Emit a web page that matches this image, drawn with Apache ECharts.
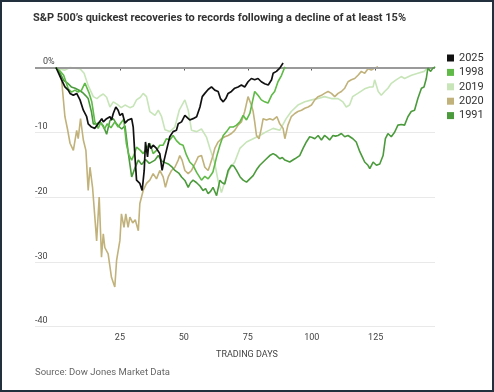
<!DOCTYPE html>
<html>
<head>
<meta charset="utf-8">
<script src="https://cdn.jsdelivr.net/npm/echarts@6/dist/echarts.min.js"></script>
<style>
html,body{margin:0;padding:0;background:#fff;}
#wrap{position:relative;width:494px;height:392px;}
#chart{position:absolute;left:0;top:0;width:494px;height:392px;}
#frame{position:absolute;left:0;top:0;width:494px;height:392px;box-sizing:border-box;border:2px solid #22303d;pointer-events:none;}
</style>
</head>
<body>
<div id="wrap"><div id="chart"></div><div id="frame"></div></div>
<script>
const titleText = 'S&P 500\u2019s quickest recoveries to records following a decline of at least 15%';
const sourceText = 'Source: Dow Jones Market Data';
const xAxisName = 'TRADING DAYS';
const xTicks = [25, 50, 75, 100, 125];
const legendNames = ['2025', '1998', '2019', '2020', '1991'];

const s2025 = [[0,0],[2.2,-1.9],[3.5,-3],[4.8,-3.5],[5.5,-4],[6.8,-4.3],[8.1,-4],[9.4,-5],[10.7,-6.6],[12,-7.6],[12.6,-8.7],[13.3,-8.9],[13.9,-9.2],[15.2,-9.4],[15.9,-9.7],[16.5,-8.7],[17.2,-8.4],[17.9,-7.9],[18.5,-8.4],[19.8,-7.9],[21.1,-7.6],[21.7,-8.1],[22.4,-7.1],[23.4,-6.1],[24.3,-6.6],[25,-7.4],[26,-7.1],[27,-8.6],[28.2,-8.1],[29.6,-7.9],[30.2,-9.2],[30.9,-13.8],[31.5,-17.4],[32.8,-17.9],[33.7,-19],[34.5,-15.9],[35,-11.5],[35.8,-13.8],[36.3,-11.7],[37.1,-12.5],[38,-12],[39.3,-12.5],[40.6,-13.3],[41.5,-15.9],[42.3,-14.3],[43.2,-12.8],[44.5,-10.7],[45.8,-9.9],[47.1,-9.7],[47.8,-8.7],[49.1,-8.4],[50.4,-7.4],[51,-7.6],[52.3,-8.1],[53.6,-7.9],[55,-7.6],[56.3,-6.1],[57.2,-4.5],[58.2,-4],[59.5,-3.4],[60.8,-3],[62.1,-3.5],[63.4,-3.7],[64.3,-4.8],[65.4,-5.3],[66.4,-4.8],[67.3,-4],[68.6,-3.7],[69.9,-3.2],[71.2,-3],[72.5,-2.7],[73.8,-3],[75.1,-2.2],[76.4,-1.7],[77.7,-1.9],[79,-1.7],[80.3,-2.2],[81.6,-2.5],[83,-2.7],[84.3,-1.9],[84.9,-0.9],[86.2,-0.6],[87.5,-0.1],[88.8,0.7]];

const s1998 = [[0,0],[1.5,-0.5],[3,-1.2],[4.8,-3.3],[6.1,-3.8],[7.4,-3.5],[8.7,-3.8],[10,-3.5],[11.3,-2.4],[12,-2.2],[13,-4],[14,-5.3],[15.2,-8.4],[16.5,-9.4],[17.5,-8.5],[19,-9.5],[20,-8.7],[21.5,-9.3],[23,-8.4],[24.3,-9.2],[25.5,-8.5],[26.5,-8],[27.5,-11.7],[28.5,-13.5],[29.6,-14.3],[30.5,-13.5],[31.5,-12.3],[33,-12.8],[34.1,-13.3],[35.4,-12.5],[36.7,-11.7],[38,-13.3],[39.3,-12.8],[40.6,-12],[41.9,-12],[43.2,-11],[44.5,-11.2],[45.8,-10.5],[47.1,-11.3],[48.4,-11.8],[49.7,-12],[51,-13.5],[52.3,-14.6],[53.6,-15.1],[55,-16.2],[56.9,-17.4],[58.2,-16.8],[59.5,-17.2],[60.8,-16.5],[61.4,-16.1],[62.8,-13.8],[64.1,-12],[65.4,-10.5],[66.7,-9.9],[68,-9.2],[69.3,-9.2],[70.6,-8.9],[71.9,-8.4],[73.2,-7.4],[74.5,-8.1],[75.8,-7.1],[76.8,-5.3],[77.7,-3.7],[79,-4.3],[80.3,-5],[81.6,-5.3],[82.9,-5.5],[84.3,-4.3],[85.5,-3.7],[86.8,-2.2],[88.2,-1.2],[89.5,0.1]];

const s2019 = [[0,0],[2,-0.3],[3.5,-0.4],[5.5,0],[7.4,-0.1],[9.4,-0.2],[11,-0.9],[12.6,-2.8],[14.6,-4.5],[16,-4.8],[17.2,-4.4],[18.5,-4.1],[19.8,-4.6],[21.1,-6.1],[22.4,-5.3],[24,-5.7],[25.5,-6.2],[27,-5.8],[28.9,-6.2],[30.2,-6],[31.5,-5],[33,-4.6],[34.1,-4],[35.4,-4.5],[36.7,-6.8],[38.7,-7.4],[40,-6.6],[41.3,-7.6],[42.6,-9.6],[44.5,-9.9],[46.5,-9.2],[48.2,-6.6],[50.4,-5],[51.7,-6.6],[53,-9.7],[55,-9.9],[56.9,-9.5],[58.9,-10.8],[60.2,-12.5],[62,-14.6],[63.4,-17.5],[64.7,-19.3],[66,-17.7],[68,-15.6],[69.9,-14.6],[71.9,-12.5],[74.5,-11.5],[77.1,-11],[79.7,-10.5],[82.3,-9.9],[84.9,-9.4],[87.5,-9.7],[90,-7.9],[92,-6.8],[94.6,-5.8],[97.3,-5.3],[100,-5],[102.5,-4.8],[105,-4.5],[107.7,-4.8],[110.3,-4.8],[112.2,-5.3],[113.5,-6.1],[114.8,-5.8],[116,-4.5],[118,-4],[120.7,-3.3],[122.7,-3],[124,-3],[124.6,-1.9],[126,-3.7],[127.2,-4.3],[128.5,-3.7],[129.8,-3.2],[131,-2.5],[133,-1.9],[135,-1.4],[136.3,-1.7],[139,-1.2],[141.5,-0.9],[144,-0.6],[145.4,0]];

const s2020 = [[0,0],[1,-0.5],[2.2,-1.9],[3.5,-7.6],[4.5,-9.5],[5.5,-11.7],[6.8,-12.8],[8.1,-9.7],[8.7,-11],[9.6,-7.9],[10.7,-11.2],[11.7,-12.8],[12.6,-19],[13.3,-15.4],[14.3,-18.5],[15.2,-23.1],[15.9,-26.8],[16.9,-20],[17.8,-29.3],[18.5,-25.7],[19.1,-27.8],[20.4,-28.8],[21.7,-32.4],[23,-33.9],[23.7,-29.8],[25,-26.7],[25.6,-22.6],[26.6,-24.7],[27.3,-22.6],[28.2,-24.7],[28.9,-23.1],[30,-24],[31,-23.5],[32.2,-25.2],[32.8,-21],[34.1,-19],[35.4,-17.9],[36.7,-17.4],[38,-16.4],[39.3,-17.2],[40.6,-15.9],[41.9,-16.9],[42.8,-18.5],[43.9,-16.9],[45.2,-15.9],[46.5,-15.4],[47.8,-14.3],[48.4,-13.6],[49.3,-14.3],[50.4,-15.9],[51.7,-16.4],[53,-15.9],[54.3,-14.9],[55.6,-13.8],[56.9,-13.6],[58.2,-15.4],[59.5,-15.9],[60.2,-15.1],[61.4,-13.6],[62.1,-12.5],[63.4,-11.5],[64.7,-11],[66,-10.7],[67.3,-10.5],[68.6,-10.2],[69.9,-9.7],[71.2,-8.9],[72.5,-8.4],[73.8,-6.8],[75.1,-4.5],[75.8,-4.3],[76.4,-5.8],[77.1,-6.8],[77.7,-8.4],[78.4,-10.5],[79.4,-11],[80.3,-9.4],[81,-7.9],[82.3,-8.1],[83.6,-7.9],[84.9,-8.1],[86.4,-7.6],[87.5,-8.7],[88.8,-9.4],[89.5,-11],[90.7,-8.9],[92,-7.6],[93.4,-7.1],[94.6,-6.8],[96,-6.6],[97.3,-6.3],[98.6,-6.1],[99.9,-5.8],[101.2,-5],[102.5,-4.5],[103.8,-4.3],[105,-4],[106.4,-3.7],[107.7,-4],[109,-4.5],[110.3,-4],[111.6,-3.7],[112.9,-3.2],[114.2,-2.2],[115.5,-1.9],[116.8,-1.7],[118.1,-1.2],[119.4,-0.6],[120.7,-0.9],[122,-0.2],[123.3,-0.4],[124.6,-0.1],[125.9,0.1]];

const s1991 = [[0,0],[1.5,-0.8],[3,-2],[4.5,-2.4],[6,-3],[7.5,-3.2],[9,-3.5],[10.5,-3.9],[11.5,-4.3],[12.6,-4.8],[13.9,-6.9],[14.6,-8.7],[15.9,-8.7],[17.2,-8.4],[18.5,-9],[19.8,-10.3],[21.1,-8.2],[22.4,-7.9],[23.5,-8.6],[24.3,-9],[25.7,-9.5],[27,-9],[28.2,-13],[29.6,-16.9],[30.9,-15.5],[32.2,-14.3],[33.5,-15],[35,-14.2],[36.5,-14.8],[38.7,-14.3],[40,-13.6],[41.5,-14.5],[43.9,-14.9],[45.2,-15.3],[46.5,-15.9],[48,-16.3],[49.1,-16.9],[50.5,-17.5],[51.7,-18.5],[52.6,-17.8],[53.6,-17.4],[55,-17.8],[56.3,-18.3],[57.5,-19],[58.5,-18.7],[59.5,-19.5],[60.5,-19.1],[61.4,-18.5],[62.8,-19.8],[64.1,-17.4],[65,-17.8],[66,-18],[67.3,-15.9],[68.6,-15.1],[69.5,-15.2],[70.6,-15.9],[72,-16.9],[73.2,-17.4],[74.5,-17.7],[75.8,-17.2],[77.1,-16.7],[78.4,-15.8],[79.7,-15.1],[81,-14.6],[82.3,-14.1],[83.6,-13.6],[84.9,-13.3],[86.2,-13.6],[87.5,-14.1],[88.5,-13.9],[89.5,-14.3],[91.4,-14.6],[93.4,-14.1],[95.3,-13.6],[96.6,-12.5],[97.9,-11.5],[99.2,-10.7],[100.2,-10.8],[101.2,-11],[102.5,-10.5],[103.8,-11.2],[105,-10.5],[106,-10.8],[107,-11.2],[108.3,-10.5],[109.3,-10.6],[110.3,-10.5],[111.6,-10.2],[112.9,-10.7],[114.2,-10.5],[116.1,-11],[117.4,-11.5],[118.8,-13],[120,-14],[120.7,-14.6],[122,-15.1],[122.7,-15.6],[124,-14.6],[125.3,-15.1],[126.6,-14.9],[127.9,-13.6],[128.8,-11],[129.8,-10.2],[131.1,-10.7],[132.4,-10],[133.7,-8.9],[135,-8.8],[136.3,-8.9],[137.6,-7.6],[138.9,-6.8],[140.2,-6.6],[141.5,-4.8],[142.9,-3.2],[143.9,-3],[144.8,-1.7],[145.4,-0.1],[146.5,-0.6],[147.4,-0.1],[148.3,0.1]];

const seriesData = {'2025': s2025, '1998': s1998, '2019': s2019, '2020': s2020, '1991': s1991};
const colors = {'2025': '#111111', '1998': '#5fba47', '2019': '#c7e5b8', '2020': '#c1b27b', '1991': '#4b9b3d'};
const drawOrder = ['2019', '2020', '1991', '1998', '2025'];

const chart = echarts.init(document.getElementById('chart'), null, {renderer: 'canvas'});
const series = drawOrder.map((name, i) => ({
  name: name,
  type: 'line',
  data: seriesData[name],
  showSymbol: false,
  symbol: 'none',
  clip: false,
  z: 3 + i,
  lineStyle: {color: colors[name], width: name === '2025' ? 1.7 : 1.6},
  itemStyle: {color: colors[name]},
  emphasis: {disabled: true},
  markLine: i === 0 ? {
    silent: true, symbol: 'none', label: {show: false},
    lineStyle: {color: '#9a9a9a', width: 2, type: 'solid'},
    data: [{yAxis: 0}]
  } : undefined
}));

chart.setOption({
  animation: false,
  backgroundColor: '#ffffff',
  textStyle: {fontFamily: 'Roboto, "Noto Sans", sans-serif'},
  title: {
    text: titleText, left: 33, top: 13, padding: 0,
    textStyle: {fontSize: 11, fontWeight: 'bold', color: '#333333', fontFamily: '"Liberation Sans Narrow", Roboto, sans-serif'}
  },
  legend: {
    data: legendNames, orient: 'vertical', left: 447, top: 51, padding: 0,
    icon: 'rect', itemWidth: 7, itemHeight: 7, itemGap: 0.4,
    selectedMode: false,
    textStyle: {fontSize: 11, color: '#333333', lineHeight: 14, padding: [0, 0, 0, 0]}
  },
  grid: {left: 35, right: 59, top: 67.5, bottom: 65.5, containLabel: false},
  xAxis: {
    type: 'value', min: -8.2, max: 148.2,
    name: xAxisName, nameLocation: 'middle', nameGap: 24,
    nameTextStyle: {fontSize: 9, color: '#444444', padding: [0, 0, 0, 24]},
    axisLine: {show: false},
    axisTick: {show: true, length: 3, customValues: xTicks, lineStyle: {color: '#555555', width: 1}},
    axisLabel: {customValues: xTicks, fontSize: 9, color: '#444444', margin: 7},
    splitLine: {show: false}
  },
  yAxis: {
    type: 'value', min: -40, max: 0, interval: 10,
    axisLine: {show: false}, axisTick: {show: false},
    axisLabel: {
      inside: true, margin: 0, align: 'left', verticalAlign: 'bottom',
      fontSize: 9, color: '#444444', padding: [0, 0, 1, 0],
      formatter: v => v === 0 ? '{z|0%}' : String(v),
      rich: {z: {fontSize: 9, color: '#444444', padding: [0, 0, 0, 8]}}
    },
    splitLine: {show: true, lineStyle: {color: '#e9e9e9', width: 1}}
  },
  graphic: [{
    type: 'text', left: 35, top: 368,
    style: {text: sourceText, fontSize: 9.5, fill: '#666666', fontFamily: 'Roboto, "Noto Sans", sans-serif'}
  }],
  series: series
});
</script>
</body>
</html>
